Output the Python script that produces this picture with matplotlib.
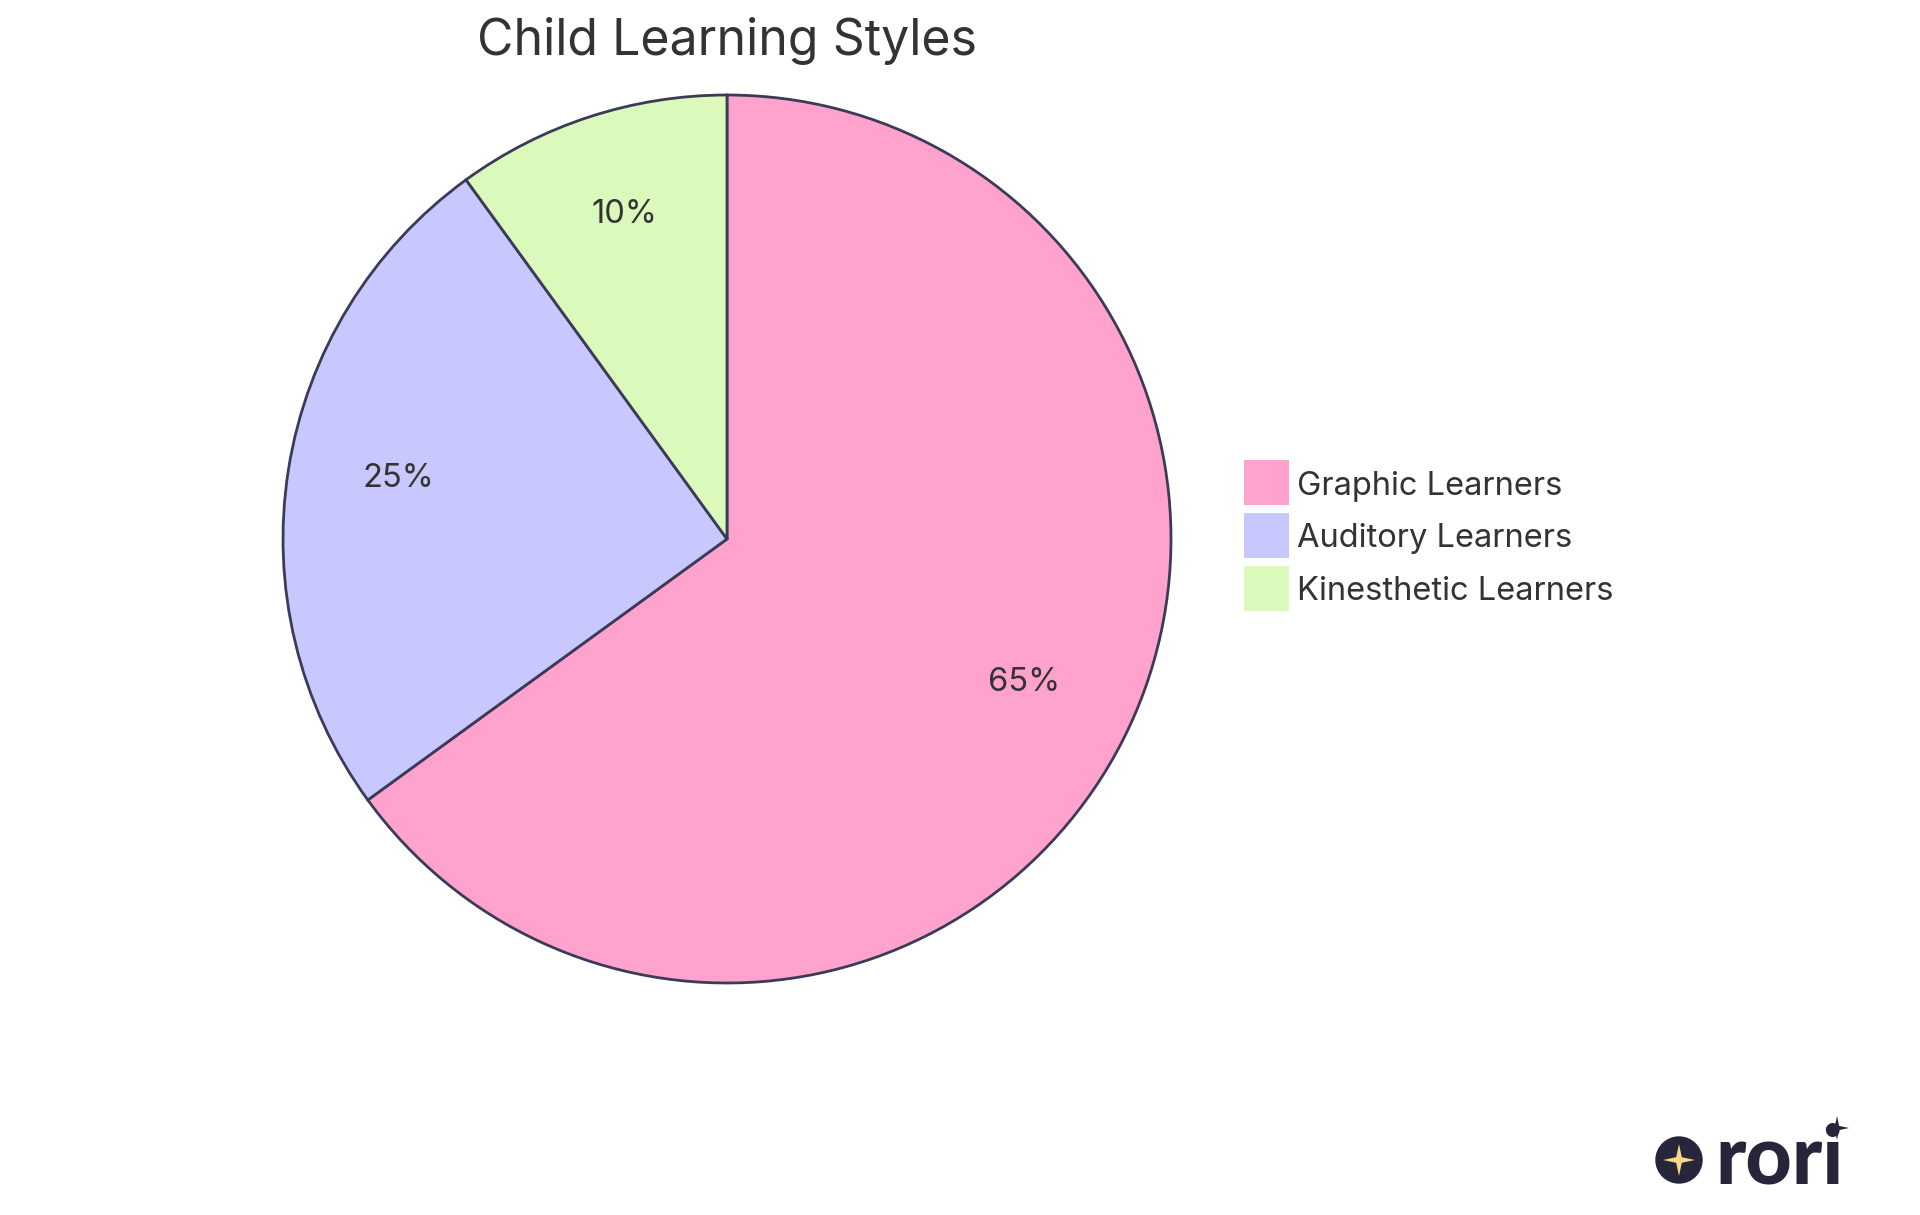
import matplotlib
matplotlib.use("Agg")
import matplotlib.pyplot as plt
from matplotlib.patches import Circle, Polygon, Rectangle
import numpy as np

title = "Child Learning Styles"
labels = ["Graphic Learners", "Auditory Learners", "Kinesthetic Learners"]
values = [65, 25, 10]
colors = ["#FFA3CE", "#C8C8FE", "#DAF9BB"]

W, H = 1920, 1215
fig = plt.figure(figsize=(W / 100, H / 100), dpi=100)
ax = fig.add_axes([0, 0, 1, 1])

FONT = ["Inter", "DejaVu Sans"]
TXT = "#333333"
EDGE = "#3B3B58"

cx, cy, R = 727, H - 539, 444
wedges, texts, autotexts = ax.pie(
    values, colors=colors, startangle=90, counterclock=False,
    center=(cx, cy), radius=R, autopct="%1.0f%%", pctdistance=0.75,
    wedgeprops=dict(edgecolor=EDGE, linewidth=2.0),
    textprops=dict(fontsize=23.5, color=TXT, family=FONT),
    frame=True,
)
for t in autotexts:
    x, y = t.get_position()
    t.set_position((x, y + 8))
ax.set_xlim(0, W)
ax.set_ylim(0, H)
ax.set_aspect("equal")
ax.axis("off")

ax.text(cx, H - 41, title, ha="center", va="center", fontsize=36,
        color=TXT, family=FONT)

# legend
sq = 45
row_y = [482, 535, 588]
for lab, col, ry in zip(labels, colors, row_y):
    ax.add_patch(Rectangle((1244, H - ry - sq / 2), sq, sq, color=col, lw=0))
    ax.text(1297, H - ry - 4, lab, ha="left", va="center", fontsize=23.5,
            color=TXT, family=FONT)

# logo
ax.add_patch(Circle((1679, H - 1160), 23, color="#26253A", zorder=5))

def star(x, y, r_out, r_in, color):
    pts = []
    for k in range(8):
        ang = np.pi / 2 + k * np.pi / 4
        r = r_out if k % 2 == 0 else r_in
        pts.append((x + r * np.cos(ang), y + r * np.sin(ang)))
    ax.add_patch(Polygon(pts, closed=True, color=color, zorder=6, lw=0))

star(1679, H - 1160, 16, 4, "#F8D68A")
ax.text(1780, H - 1160, "rori", ha="center", va="center", fontsize=58,
        fontweight="black", family=["Lato", "DejaVu Sans"], color="#26253A")
star(1837, H - 1128, 12, 3, "#26253A")

fig.savefig("out.png", dpi=100, facecolor="white")
